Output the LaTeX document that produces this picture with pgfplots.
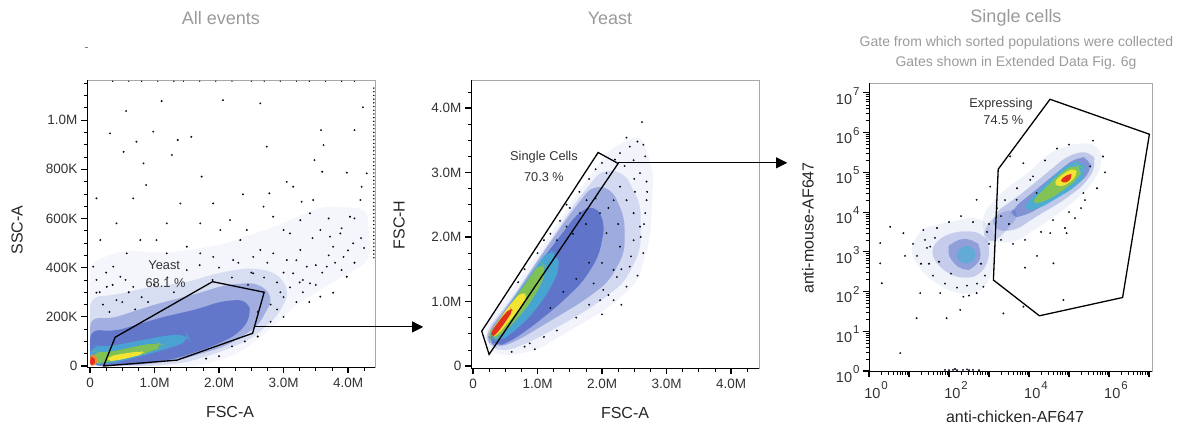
\documentclass[border=0pt]{standalone}
\usepackage{pgfplots}
\pgfplotsset{compat=1.18}
\usepackage{fontspec}
\setmainfont{Liberation Sans}
\usetikzlibrary{arrows.meta}

\definecolor{dotblue}{HTML}{3A58CC}
\definecolor{dblue}{HTML}{2E4AB8}
\definecolor{fcyan}{HTML}{3FB4D4}
\definecolor{fgreen}{HTML}{8CC63F}
\definecolor{fyellow}{HTML}{F3E433}
\definecolor{forange}{HTML}{F08A2A}
\definecolor{fred}{HTML}{E2301F}
\definecolor{titlegray}{HTML}{9A9A9A}
\definecolor{framegray}{HTML}{A8A8A8}
\definecolor{labgray}{HTML}{333333}

\newcommand{\tp}[1]{10\hspace{1pt}\raisebox{0.6em}{\fontsize{11.5}{11.5}\selectfont #1}}

\tikzset{gatelab/.style={font=\fontsize{12.8}{14}\selectfont, text=labgray}}

\pgfplotsset{
  flowaxis/.style={
    scale only axis,
    axis line style={framegray, line width=0.8pt},
    tick align=outside,
    xtick pos=left, ytick pos=left,
    major tick length=6pt, minor tick length=3.5pt,
    tick style={black, line width=1.1pt},
    minor tick style={line width=0.7pt},
    tick label style={font=\fontsize{13.5}{15}\selectfont, text=labgray},
    clip mode=individual,
  },
  blob/.style={draw=none, fill=#1, rounded corners=10pt},
  dots/.style={only marks, mark=*, mark size=0.75pt, mark options={draw=none, fill=dotblue, fill opacity=0.7}},
  gate/.style={black, line width=1.3pt, mark=none},
}

\begin{document}
\begin{tikzpicture}[x=1pt,y=1pt]
\path[use as bounding box] (0,0) rectangle (1188,426);

% ---------------- Panel 1 ----------------
\begin{axis}[flowaxis, at={(87pt,59pt)}, anchor=south west,
  width=288pt, height=287pt,
  xmin=-0.047, xmax=4.418, ymin=-4, ymax=1163,
  xtick={0,1,2,3,4}, xticklabels={0,1.0M,2.0M,3.0M,4.0M},
  minor xtick={0.25,0.5,0.75,1.25,1.5,1.75,2.25,2.5,2.75,3.25,3.5,3.75,4.25},
  ytick={0,200,400,600,800,1000}, yticklabels={0,200K,400K,600K,800K,1.0M},
  minor ytick={50,100,150,250,300,350,450,500,550,650,700,750,850,900,950,1050,1100,1150},
  xticklabel style={yshift=-2pt},
]
\addplot[blob=dblue, fill opacity=0.05] coordinates {(0,0) (0,420) (0.5,470) (1.2,460) (2.0,490) (2.8,560) (3.6,650) (4.3,640) (4.35,430) (3.7,330) (3.2,250) (2.8,150) (2.3,50) (1.7,0)} -- cycle;
\addplot[blob=dblue, fill opacity=0.14] coordinates {(0,0) (0,280) (0.4,290) (0.9,320) (1.5,340) (2.0,380) (2.5,400) (2.9,380) (3.1,300) (2.9,200) (2.5,110) (2.0,55) (1.5,15) (1.0,0)} -- cycle;
\addplot[blob=dblue, fill opacity=0.32] coordinates {(0,0) (0,200) (0.3,190) (1.0,250) (1.6,290) (2.1,330) (2.6,340) (2.85,280) (2.6,160) (2.1,80) (1.4,25) (0.8,5)} -- cycle;
\addplot[blob=dblue, fill opacity=0.55] coordinates {(0,0) (0,150) (0.36,140) (1.14,200) (1.65,230) (2.05,265) (2.45,270) (2.5,200) (2.3,130) (1.9,80) (1.34,30) (0.8,8)} -- cycle;
\addplot[blob=fcyan, fill opacity=0.7] coordinates {(0,10) (0,85) (0.12,80) (0.35,82) (0.8,105) (1.2,125) (1.5,130) (1.55,105) (1.3,78) (0.9,48) (0.5,20) (0.2,5)} -- cycle;
\addplot[blob=fgreen, fill opacity=0.85] coordinates {(0.02,15) (0.02,60) (0.12,55) (0.35,58) (0.7,80) (1.05,95) (1.15,85) (1.0,62) (0.65,38) (0.35,20) (0.15,10)} -- cycle;
\addplot[blob=fyellow, rounded corners=5pt] coordinates {(0.25,20) (0.3,40) (0.55,52) (0.8,60) (0.85,50) (0.6,33) (0.4,22)} -- cycle;
\addplot[draw=none, fill=forange, rounded corners=3pt] coordinates {(0,0) (0,45) (0.07,48) (0.12,25) (0.09,3)} -- cycle;
\addplot[draw=none, fill=fred, rounded corners=3pt] coordinates {(0,2) (0,35) (0.05,38) (0.09,22) (0.06,4)} -- cycle;
\addplot[dots] coordinates {
(0.56,1037) (1.11,1077) (2.06,1081) (2.64,1068) (4.23,1052) (0.31,946) (0.52,871) (0.72,912) (0.98,953) (1.27,858)
(1.36,919) (1.57,932) (0.83,824) (1.40,661) (1.73,770) (1.91,661) (2.17,593) (2.37,698) (2.74,892) (2.78,702)
(3.05,749) (3.15,729) (3.28,668) (3.46,675) (3.58,959) (3.62,898) (3.48,837) (3.60,790) (3.98,786) (4.10,959)
(4.21,729) (4.29,783) (0.10,682) (0.41,580) (0.67,682) (0.87,736) (1.19,580) (2.69,648) (2.84,607) (3.00,553)
(3.10,539) (3.26,593) (3.41,621) (3.57,553) (3.72,526) (3.88,539) (4.03,607) (4.19,675) (3.77,485) (3.67,404)
(3.93,444) (4.08,499) (3.26,472) (3.36,404) (3.15,377) (3.41,336) (3.77,298) (3.57,282) (3.98,363) (3.05,431)
(2.84,458) (2.64,472) (2.53,444) (2.33,512) (2.22,431) (2.53,377) (1.91,444) (1.71,458) (1.50,485) (1.19,458)
(1.03,512) (0.78,512) (0.57,458) (0.36,404) (0.16,512) (0.26,322) (0.47,363) (0.05,404) (0.10,298) (0.41,268)
(0.67,322) (1.71,580) (2.02,553) (2.43,553)
(0.2,250) (0.3,220) (0.5,260) (0.6,300) (0.8,280) (1.0,330) (1.2,360) (1.5,390) (1.7,410) (2.0,400)
(2.3,420) (2.5,380) (2.7,360) (2.9,340) (3.1,320) (3.3,300) (3.0,280) (2.8,250) (2.6,220) (2.9,230)
(3.2,260) (3.5,330) (3.4,260) (2.2,80) (2.4,100) (2.6,120) (2.0,40) (1.8,30) (2.8,180) (3.0,200)
(0.1,350) (0.25,380) (0.15,300) (3.6,380) (3.8,420) (4.0,470) (4.2,520) (3.9,560) (3.7,600) (4.1,600)
(3.3,350) (3.5,410) (3.7,450) (3.9,390) (4.1,420) (4.25,480) (3.45,520) (3.2,430) (3.0,380) (2.75,420)
(2.45,330) (2.2,360) (1.9,350) (0.35,330) (0.55,350) (0.7,230) (0.9,260) (1.3,300) (2.95,300) (3.25,340)
};
\addplot[only marks, mark=*, mark size=0.5pt, mark options={draw=none, fill=dotblue!45!gray}] coordinates {
(4.40,440) (4.40,455) (4.40,470) (4.40,485) (4.40,500) (4.40,515) (4.40,530) (4.40,545) (4.40,560) (4.40,575)
(4.40,590) (4.40,605) (4.40,620) (4.40,635) (4.40,650) (4.40,665) (4.40,680) (4.40,695) (4.40,710) (4.40,725)
(4.40,740) (4.40,755) (4.40,770) (4.40,785) (4.40,800) (4.40,815) (4.40,830) (4.40,845) (4.40,860) (4.40,875)
(4.40,890) (4.40,905) (4.40,920) (4.40,935) (4.40,950) (4.40,965) (4.40,980) (4.40,995) (4.40,1010) (4.40,1025)
(4.40,1040) (4.40,1055) (4.40,1070) (4.40,1085) (4.40,1100) (4.40,1115) (4.40,1130)
};
\addplot[only marks, mark=*, mark size=0.4pt, mark options={draw=none, fill=gray!60}] coordinates {
(0.35,1158) (0.6,1158) (0.8,1158) (1.05,1158) (1.3,1158) (1.45,1158) (1.7,1158) (1.95,1158) (2.2,1158) (2.5,1158)
(2.7,1158) (2.95,1158) (3.2,1158) (3.4,1158) (3.65,1158) (3.9,1158) (4.1,1158)
};
\addplot[gate] coordinates {(0.21,0) (0.39,117) (1.90,343) (2.70,300) (2.52,133) (1.35,24)} -- cycle;
\node[gatelab] at (axis cs:1.15,410) {Yeast};
\node[gatelab] at (axis cs:1.17,339) {68.1 \%};
\draw[black, line width=0.9pt] (rel axis cs:0,1) -- (rel axis cs:0,0) -- (rel axis cs:1,0);
\coordinate (g1) at (axis cs:2.56,159);
\end{axis}

% ---------------- Panel 2 ----------------
\begin{axis}[flowaxis, at={(471pt,58pt)}, anchor=south west,
  width=288pt, height=288pt,
  xmin=-0.031, xmax=4.434, ymin=-0.031, ymax=4.434,
  xtick={0,1,2,3,4}, xticklabels={0,1.0M,2.0M,3.0M,4.0M},
  minor xtick={0.25,0.5,0.75,1.25,1.5,1.75,2.25,2.5,2.75,3.25,3.5,3.75,4.25},
  ytick={0,1,2,3,4}, yticklabels={0,1.0M,2.0M,3.0M,4.0M},
  minor ytick={0.25,0.5,0.75,1.25,1.5,1.75,2.25,2.5,2.75,3.25,3.5,3.75,4.25},
  xticklabel style={yshift=-2pt},
]
\addplot[blob=dblue, fill opacity=0.06] coordinates {(0.2,0.25) (0.18,0.6) (0.9,1.6) (1.6,2.65) (2.1,3.35) (2.6,3.6) (2.8,3.0) (2.75,2.0) (2.55,1.3) (2.1,0.9) (1.5,0.55) (1.0,0.25) (0.5,0.15)} -- cycle;
\addplot[blob=dblue, fill opacity=0.16] coordinates {(0.22,0.3) (0.2,0.55) (0.6,1.05) (1.1,1.8) (1.6,2.55) (2.0,3.05) (2.35,3.0) (2.6,2.5) (2.6,1.8) (2.35,1.3) (1.9,0.95) (1.4,0.65) (0.9,0.38) (0.5,0.22)} -- cycle;
\addplot[blob=dblue, fill opacity=0.32] coordinates {(0.24,0.35) (0.22,0.52) (0.6,1.02) (1.05,1.7) (1.5,2.35) (1.85,2.8) (2.15,2.75) (2.35,2.3) (2.35,1.75) (2.1,1.3) (1.7,1.0) (1.2,0.7) (0.7,0.4) (0.4,0.28)} -- cycle;
\addplot[blob=dblue, fill opacity=0.55] coordinates {(0.25,0.38) (0.24,0.5) (0.5,0.85) (0.9,1.42) (1.3,1.95) (1.65,2.4) (1.9,2.5) (2.05,2.2) (1.95,1.7) (1.7,1.3) (1.3,0.92) (0.9,0.6) (0.55,0.36) (0.35,0.3)} -- cycle;
\addplot[blob=fcyan, fill opacity=0.75] coordinates {(0.26,0.4) (0.26,0.52) (0.6,1.0) (0.95,1.5) (1.15,1.8) (1.3,1.75) (1.35,1.5) (1.15,1.12) (0.9,0.78) (0.6,0.5) (0.4,0.38)} -- cycle;
\addplot[blob=fgreen, fill opacity=0.85] coordinates {(0.27,0.42) (0.27,0.53) (0.6,0.98) (0.9,1.4) (1.05,1.62) (1.15,1.52) (1.05,1.25) (0.85,0.92) (0.6,0.64) (0.4,0.44)} -- cycle;
\addplot[blob=fyellow, rounded corners=5pt] coordinates {(0.28,0.44) (0.28,0.54) (0.55,0.92) (0.75,1.15) (0.85,1.1) (0.75,0.92) (0.55,0.68) (0.38,0.48)} -- cycle;
\addplot[draw=none, fill=fred, rounded corners=4pt] coordinates {(0.28,0.45) (0.28,0.53) (0.45,0.76) (0.58,0.9) (0.62,0.86) (0.48,0.65) (0.35,0.48)} -- cycle;
\addplot[dots] coordinates {
(2.62,3.78) (2.38,3.54) (2.55,3.48) (2.64,3.43) (2.43,3.40) (2.67,3.25) (2.49,3.19) (2.28,3.30) (2.59,2.99) (2.69,2.86)
(2.51,2.70) (2.69,2.57) (2.67,2.37) (2.59,2.16) (2.49,1.95) (2.64,1.75) (2.43,1.54) (2.23,1.38) (2.38,1.23) (2.02,1.18)
(2.18,1.02) (1.97,1.02) (1.87,1.28) (0.96,0.26) (0.88,0.35) (2.07,2.99) (2.28,2.78) (2.18,2.57) (1.97,2.37) (1.76,2.57)
(1.66,2.37) (1.45,2.16) (1.30,1.95) (2.07,2.06) (2.28,1.85) (2.18,1.49) (2.49,2.37) (2.38,2.57)
(0.8,1.5) (1.0,1.75) (1.2,2.05) (1.35,2.25) (1.5,2.45) (1.65,2.7) (1.8,2.9) (1.9,3.05) (2.0,3.15) (1.1,1.95)
(1.45,2.5) (0.7,1.3) (2.3,1.5) (2.45,1.7) (2.6,2.0) (2.65,2.2) (2.7,2.7) (2.5,2.9) (2.35,3.1) (2.2,3.2)
(2.1,1.1) (1.8,0.95) (1.6,0.75) (1.3,0.55) (1.1,0.45) (0.8,0.3) (0.6,0.22) (2.3,0.95) (2.55,1.4) (2.0,0.8)
(1.55,2.05) (1.75,2.2) (1.9,2.6) (2.1,2.45) (2.25,2.2) (2.0,1.6) (1.8,1.6) (1.6,1.35) (1.4,1.15) (1.2,0.9)
};
\addplot[gate] coordinates {(0.25,0.18) (2.25,3.14) (1.94,3.31) (0.22,0.67) (0.135,0.54)} -- cycle;
\node[gatelab] at (axis cs:1.10,3.24) {Single Cells};
\node[gatelab] at (axis cs:1.10,2.93) {70.3 \%};
\draw[black, line width=0.9pt] (rel axis cs:0,1) -- (rel axis cs:0,0) -- (rel axis cs:1,0);
\coordinate (g2) at (axis cs:2.25,3.15);
\end{axis}

% ---------------- Panel 3 (log decades) ----------------
\begin{axis}[flowaxis, at={(869pt,55pt)}, anchor=south west,
  width=283pt, height=288pt,
  xmin=0, xmax=7.075, ymin=0, ymax=7.25,
  xtick={0,1,2,3,4,5,6,7}, xticklabels={\tp{0},,\tp{2},,\tp{4},,\tp{6},},
  ytick={0,1,2,3,4,5,6,7}, yticklabels={\tp{0},\tp{1},\tp{2},\tp{3},\tp{4},\tp{5},\tp{6},\tp{7}},
  minor xtick={0.301,0.477,0.602,0.699,0.778,0.845,0.903,0.954,1.301,1.477,1.602,1.699,1.778,1.845,1.903,1.954,2.301,2.477,2.602,2.699,2.778,2.845,2.903,2.954,3.301,3.477,3.602,3.699,3.778,3.845,3.903,3.954,4.301,4.477,4.602,4.699,4.778,4.845,4.903,4.954,5.301,5.477,5.602,5.699,5.778,5.845,5.903,5.954,6.301,6.477,6.602,6.699,6.778,6.845,6.903,6.954},
  minor ytick={0.301,0.477,0.602,0.699,0.778,0.845,0.903,0.954,1.301,1.477,1.602,1.699,1.778,1.845,1.903,1.954,2.301,2.477,2.602,2.699,2.778,2.845,2.903,2.954,3.301,3.477,3.602,3.699,3.778,3.845,3.903,3.954,4.301,4.477,4.602,4.699,4.778,4.845,4.903,4.954,5.301,5.477,5.602,5.699,5.778,5.845,5.903,5.954,6.301,6.477,6.602,6.699,6.778,6.845,6.903,6.954},
  tick label style={font=\fontsize{14.5}{16}\selectfont, text=labgray},
  xticklabel style={xshift=7pt, yshift=-1pt},
  yticklabel style={yshift=-3pt},
]
% non-expressing cluster
\addplot[blob=dblue, fill opacity=0.07] coordinates {(1.0,3.0) (1.3,3.6) (2.0,3.75) (2.7,3.9) (3.1,3.6) (3.2,3.0) (3.0,2.2) (2.6,1.9) (2.0,2.0) (1.4,2.4)} -- cycle;
\addplot[blob=dblue, fill opacity=0.22] coordinates {(1.5,3.0) (1.8,3.4) (2.4,3.55) (2.9,3.45) (3.05,3.0) (2.85,2.45) (2.4,2.3) (1.85,2.5)} -- cycle;
\addplot[blob=dblue, fill opacity=0.35] coordinates {(1.9,3.0) (2.1,3.3) (2.6,3.35) (2.85,3.05) (2.7,2.6) (2.3,2.5)} -- cycle;
\addplot[blob=fcyan, fill opacity=0.55, rounded corners=6pt] coordinates {(2.15,2.9) (2.3,3.15) (2.6,3.15) (2.7,2.9) (2.55,2.7) (2.3,2.7)} -- cycle;
% bridge
\addplot[blob=dblue, fill opacity=0.2] coordinates {(2.8,3.3) (3.0,3.8) (3.5,4.1) (3.8,4.0) (3.5,3.6) (3.1,3.2)} -- cycle;
% expressing cluster
\addplot[blob=dblue, fill opacity=0.07] coordinates {(2.9,3.3) (2.8,3.9) (3.3,4.5) (4.0,5.0) (4.5,5.5) (5.2,5.75) (5.75,5.7) (5.85,5.2) (5.5,4.6) (4.8,4.0) (4.2,3.6) (3.6,3.2)} -- cycle;
\addplot[blob=dblue, fill opacity=0.25] coordinates {(3.1,3.55) (3.1,3.95) (3.8,4.45) (4.4,4.95) (5.0,5.45) (5.55,5.55) (5.7,5.2) (5.4,4.7) (4.8,4.25) (4.2,3.9) (3.6,3.5)} -- cycle;
\addplot[blob=dblue, fill opacity=0.42] coordinates {(3.5,3.85) (3.6,4.1) (4.1,4.5) (4.7,5.0) (5.2,5.4) (5.55,5.35) (5.55,5.0) (5.1,4.6) (4.5,4.25) (3.9,3.9)} -- cycle;
\addplot[blob=fcyan, fill opacity=0.75] coordinates {(3.8,4.05) (4.1,4.4) (4.5,4.8) (5.0,5.25) (5.35,5.3) (5.45,5.0) (5.2,4.65) (4.7,4.35) (4.2,4.05)} -- cycle;
\addplot[blob=fgreen, fill opacity=0.85] coordinates {(4.0,4.2) (4.4,4.6) (4.8,5.0) (5.15,5.22) (5.35,5.12) (5.25,4.85) (4.9,4.58) (4.4,4.25)} -- cycle;
\addplot[blob=fyellow, rounded corners=5pt] coordinates {(4.6,4.75) (4.9,5.0) (5.15,5.12) (5.22,4.95) (5.0,4.72) (4.75,4.62)} -- cycle;
\addplot[draw=none, fill=fred, rounded corners=4pt] coordinates {(4.75,4.78) (5.0,4.98) (5.1,4.92) (4.95,4.72)} -- cycle;
\addplot[dots] coordinates {
(0.28,3.22) (0.28,2.71) (0.32,2.21) (0.78,0.45) (1.19,1.33) (1.94,1.33) (2.28,1.54) (0.53,3.63) (0.86,3.47) (1.36,3.55)
(1.53,3.13) (1.78,1.96) (2.69,4.31) (3.03,4.64) (3.53,5.40) (3.86,5.23) (4.03,4.81) (4.19,4.48) (3.69,4.31) (4.61,2.71)
(4.86,1.79) (5.15,3.85) (5.36,4.48) (5.53,5.15) (4.94,3.47) (4.53,3.47) (3.36,1.45) (3.86,1.62) (2.69,1.96) (2.86,2.12)
(2.36,1.87) (1.28,1.96)
(1.2,2.9) (1.4,3.3) (1.6,2.4) (1.7,3.6) (1.9,2.2) (2.0,3.75) (2.2,2.1) (2.5,1.9) (2.7,2.2) (2.9,2.4)
(3.0,3.7) (3.2,4.1) (1.1,3.2) (0.9,2.9) (1.5,2.7) (2.3,3.9) (2.6,3.75) (3.3,3.3) (3.5,3.7) (3.4,4.3)
(3.7,4.6) (4.1,4.9) (4.4,5.3) (4.7,5.6) (5.0,5.7) (5.6,5.8) (5.85,5.4) (5.9,5.0) (5.7,4.6) (5.4,4.3)
(5.0,4.0) (4.6,3.8) (4.3,3.5) (3.9,3.3) (3.6,3.2) (5.3,4.1) (4.9,3.6) (3.9,2.6) (4.2,2.9)
(1.9,0.03) (2.0,0.02) (2.1,0.03) (2.2,0.02) (2.35,0.03) (2.5,0.02) (2.6,0.03) (2.75,0.02) (2.15,0.05) (2.45,0.04)
(1.3,2.7) (1.45,3.1) (1.65,3.35) (1.75,2.75) (2.05,2.45) (2.45,2.15) (2.8,2.7) (3.0,3.2) (2.95,3.5) (3.3,3.9)
};
\addplot[gate] coordinates {(4.525,6.84) (7.01,5.96) (6.34,1.85) (4.26,1.39) (3.11,2.29) (3.23,5.08) (3.48,5.42)} -- cycle;
\node[gatelab] at (axis cs:3.3,6.72) {Expressing};
\node[gatelab] at (axis cs:3.36,6.32) {74.5 \%};
\draw[black, line width=0.9pt] (rel axis cs:0,1) -- (rel axis cs:0,0) -- (rel axis cs:1,0);
\end{axis}

% arrows
\draw[black, line width=0.9pt, -{Triangle[length=11pt,width=11pt]}] (g1) -- ++(168pt,0);
\draw[black, line width=0.9pt, -{Triangle[length=11pt,width=11pt]}] (g2) -- ++(169pt,0);

% titles
\node[text=titlegray, font=\fontsize{18}{20}\selectfont] at (221,408) {All events};
\node[text=titlegray, font=\fontsize{18}{20}\selectfont] at (610,408) {Yeast};
\node[text=titlegray, font=\fontsize{18}{20}\selectfont] at (1016,408) {Single cells};
\node[text=titlegray, font=\fontsize{14}{16}\selectfont] at (1016.5,383) {Gate from which sorted populations were collected};
\node[text=titlegray, font=\fontsize{14}{16}\selectfont] at (1016,363) {Gates shown in Extended Data Fig. 6g};
\draw[gray, line width=1pt] (84.5,378) -- (88,378);

% axis labels
\node[text=black!85, font=\fontsize{16}{18}\selectfont] at (230,14) {FSC-A};
\node[text=black!85, font=\fontsize{16}{18}\selectfont] at (625,13) {FSC-A};
\node[text=black!85, font=\fontsize{16}{18}\selectfont] at (1015,9) {anti-chicken-AF647};
\node[text=black!85, font=\fontsize{16}{18}\selectfont, rotate=90] at (17,196) {SSC-A};
\node[text=black!85, font=\fontsize{16}{18}\selectfont, rotate=90] at (399,201) {FSC-H};
\node[text=black!85, font=\fontsize{16}{18}\selectfont, rotate=90] at (808,198) {anti-mouse-AF647};
\end{tikzpicture}
\end{document}
